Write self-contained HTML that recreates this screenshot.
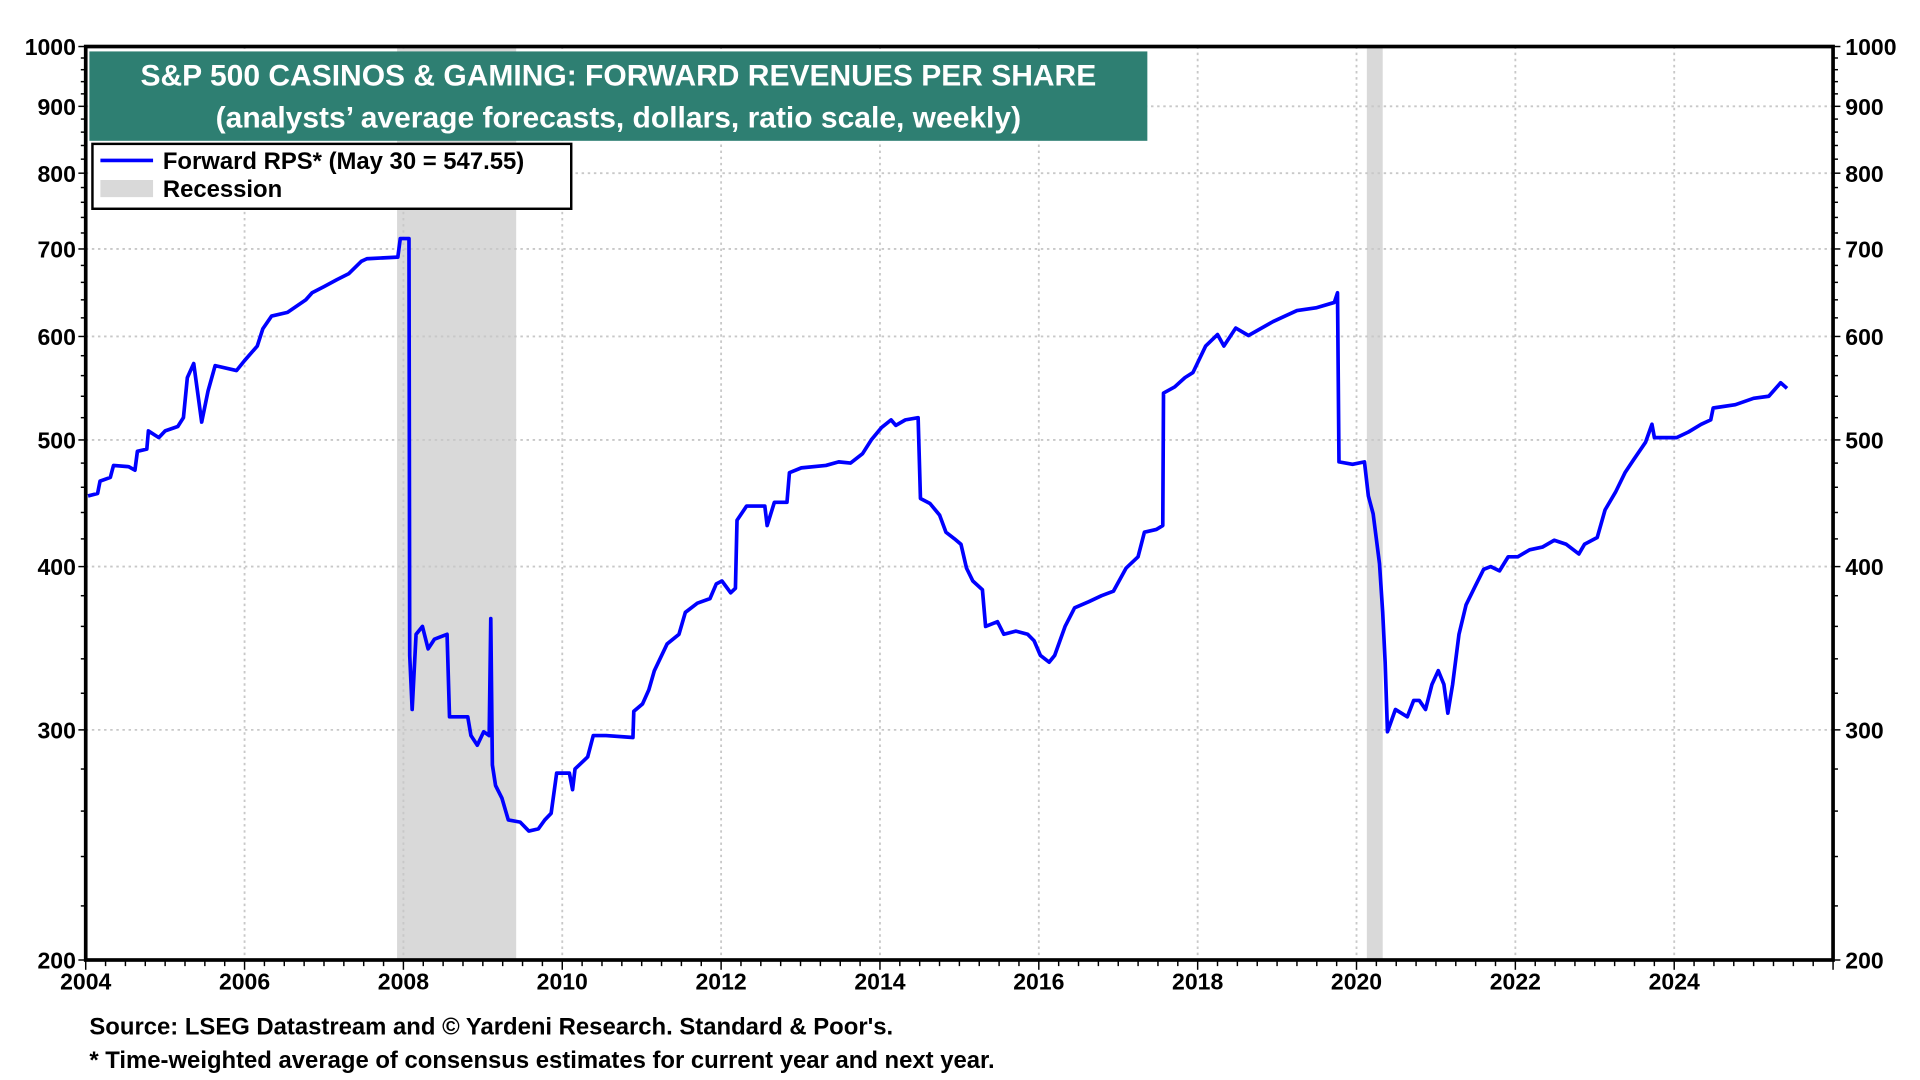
<!DOCTYPE html>
<html><head><meta charset="utf-8"><style>
html,body{margin:0;padding:0;background:#fff;}
svg{display:block;font-family:"Liberation Sans",Arial,sans-serif;font-weight:bold;}
</style></head><body>
<svg id="chart" width="1920" height="1080" viewBox="0 0 1568 882" xmlns="http://www.w3.org/2000/svg">
<g id="rec"></g>
<g id="grid"></g>
<g id="line"></g>
<g id="axes"></g>
<rect x="73" y="42" width="864" height="73" fill="#2e7f72"/>
<text x="505" y="70" text-anchor="middle" fill="#fff" font-size="24.5">S&amp;P 500 CASINOS &amp; GAMING: FORWARD REVENUES PER SHARE</text>
<text x="505" y="104" text-anchor="middle" fill="#fff" font-size="24.5">(analysts’ average forecasts, dollars, ratio scale, weekly)</text>
<g>
<rect x="75.5" y="117.5" width="391" height="53" fill="#fff" stroke="#000" stroke-width="2"/>
<line x1="82" y1="131" x2="125" y2="131" stroke="#0000ff" stroke-width="3"/>
<text x="133" y="138" font-size="19.5">Forward RPS* (May 30 = 547.55)</text>
<rect x="82" y="147" width="43" height="14" fill="#d9d9d9"/>
<text x="133" y="161" font-size="19.5">Recession</text>
</g>
<text x="73" y="845" font-size="19.5">Source: LSEG Datastream and © Yardeni Research. Standard &amp; Poor's.</text>
<text x="73" y="872" font-size="19.5">* Time-weighted average of consensus estimates for current year and next year.</text>
</svg>
<script>
const dates=[2004.03,2004.15,2004.18,2004.31,2004.35,2004.54,2004.62,2004.65,2004.77,2004.79,2004.92,2005.00,2005.16,2005.23,2005.28,2005.36,2005.46,2005.54,2005.63,2005.90,2006.00,2006.16,2006.23,2006.34,2006.54,2006.77,2006.85,2007.00,2007.16,2007.31,2007.47,2007.54,2007.93,2007.96,2008.07,2008.08,2008.11,2008.16,2008.24,2008.31,2008.39,2008.55,2008.58,2008.81,2008.85,2008.93,2009.01,2009.08,2009.10,2009.12,2009.16,2009.24,2009.32,2009.47,2009.58,2009.70,2009.78,2009.86,2009.93,2010.09,2010.13,2010.16,2010.32,2010.39,2010.55,2010.89,2010.90,2011.01,2011.09,2011.16,2011.32,2011.47,2011.55,2011.70,2011.86,2011.94,2012.01,2012.12,2012.18,2012.20,2012.32,2012.55,2012.58,2012.67,2012.83,2012.86,2013.01,2013.32,2013.48,2013.63,2013.78,2013.89,2014.02,2014.14,2014.20,2014.32,2014.48,2014.51,2014.63,2014.75,2014.83,2014.94,2015.02,2015.09,2015.17,2015.29,2015.33,2015.48,2015.56,2015.71,2015.86,2015.94,2016.02,2016.13,2016.20,2016.33,2016.45,2016.63,2016.79,2016.94,2017.10,2017.25,2017.33,2017.48,2017.56,2017.57,2017.71,2017.84,2017.94,2018.10,2018.25,2018.33,2018.48,2018.64,2018.95,2019.10,2019.25,2019.49,2019.72,2019.76,2019.78,2019.95,2020.10,2020.15,2020.21,2020.29,2020.33,2020.36,2020.39,2020.49,2020.64,2020.72,2020.79,2020.87,2020.95,2021.03,2021.10,2021.15,2021.21,2021.29,2021.38,2021.49,2021.60,2021.69,2021.80,2021.91,2022.03,2022.18,2022.34,2022.49,2022.64,2022.80,2022.87,2023.03,2023.13,2023.26,2023.38,2023.49,2023.64,2023.72,2023.75,2024.03,2024.18,2024.34,2024.46,2024.49,2024.77,2025.00,2025.19,2025.26,2025.34,2025.42];
const values=[453,455,465,468,478,477,474,490,492,508,502,508,512,520,558,572,516,545,570,565,575,590,608,622,626,640,648,655,663,670,685,688,690,713,713,342,311,355,360,346,352,355,307,307,297,292,299,297,365,282,272,266,256,255,251,252,256,259,278,278,270,280,286,297,297,296,310,314,322,333,349,355,369,375,378,388,390,382,385,434,445,445,430,448,448,472,476,478,481,480,488,500,511,518,513,518,520,451,447,438,425,420,416,399,390,384,360,363,355,357,355,351,342,338,342,360,372,376,380,383,399,407,425,427,430,543,549,558,563,590,602,590,609,601,616,622,628,631,637,648,481,479,481,453,439,402,369,338,299,311,307,316,316,311,325,333,325,309,325,355,374,386,398,400,397,407,407,412,414,419,416,409,416,421,442,456,472,483,498,514,502,502,507,514,518,529,532,538,540,546,553,547.55];
const recStart=[2007.92,2020.13];
const recEnd=[2009.42,2020.33];
const yTicks=[200,300,400,500,600,700,800,900,1000];
const xTicks=[2004,2006,2008,2010,2012,2014,2016,2018,2020,2022,2024];

const L=70,R=1497,T=38,B=784,X0=2004,X1=2026;
const NS='http://www.w3.org/2000/svg';
const xS=d=>L+(d-X0)/(X1-X0)*(R-L);
const yS=v=>B-Math.log(v/200)/Math.log(5)*(B-T);
function mk(tag,attrs,parent,txt){const e=document.createElementNS(NS,tag);for(const k in attrs)e.setAttribute(k,attrs[k]);if(txt!==undefined)e.textContent=txt;parent.appendChild(e);return e;}
const rec=document.getElementById('rec'),grid=document.getElementById('grid'),line=document.getElementById('line'),axes=document.getElementById('axes');
recStart.forEach((s,i)=>{const r=mk('rect',{x:xS(s),y:T,width:xS(recEnd[i])-xS(s),height:B-T,fill:'#d9d9d9'},rec);

});
yTicks.forEach(v=>{if(v>200&&v<1000){const g=mk('line',{x1:L,x2:R,y1:yS(v),y2:yS(v),stroke:'#c8c8c8','stroke-width':1.5,'stroke-dasharray':'2,3'},grid);

}});
xTicks.forEach(d=>{if(d>2004){const g=mk('line',{x1:xS(d),x2:xS(d),y1:T,y2:B,stroke:'#c8c8c8','stroke-width':1.5,'stroke-dasharray':'2,3'},grid);

}});
let dstr='';dates.forEach((d,i)=>{dstr+=(i?'L':'M')+xS(d).toFixed(1)+' '+yS(values[i]).toFixed(1);});
const p=mk('path',{d:dstr,fill:'none',stroke:'#0000ff','stroke-width':3,'stroke-linejoin':'round'},line);


mk('rect',{x:L,y:T,width:R-L,height:B-T,fill:'none',stroke:'#000','stroke-width':3},axes);
for(let v=200;v<=1000;v+=20){const y=yS(v);const big=yTicks.includes(v);
mk('line',{x1:L-(big?6:4),x2:L,y1:y,y2:y,stroke:'#000','stroke-width':1.2},axes);
mk('line',{x1:R,x2:R+(big?6:4),y1:y,y2:y,stroke:'#000','stroke-width':1.2},axes);}
yTicks.forEach(v=>{const y=yS(v);
const a=mk('text',{x:L-8,y:y+7,'text-anchor':'end','font-size':18.8},axes,String(v));


const b=mk('text',{x:R+10,y:y+7,'font-size':18.8},axes,String(v));

});
for(let d=2004;d<=2026;d+=0.25){const x=xS(d);const big=Number.isInteger(d)&&d%2===0;mk('line',{x1:x,x2:x,y1:B,y2:B+(big?8:5),stroke:'#000','stroke-width':1.2},axes);}
xTicks.forEach(d=>{const t=mk('text',{x:xS(d),y:B+24,'text-anchor':'middle','font-size':18.8},axes,String(d));

});
</script>
</body></html>
